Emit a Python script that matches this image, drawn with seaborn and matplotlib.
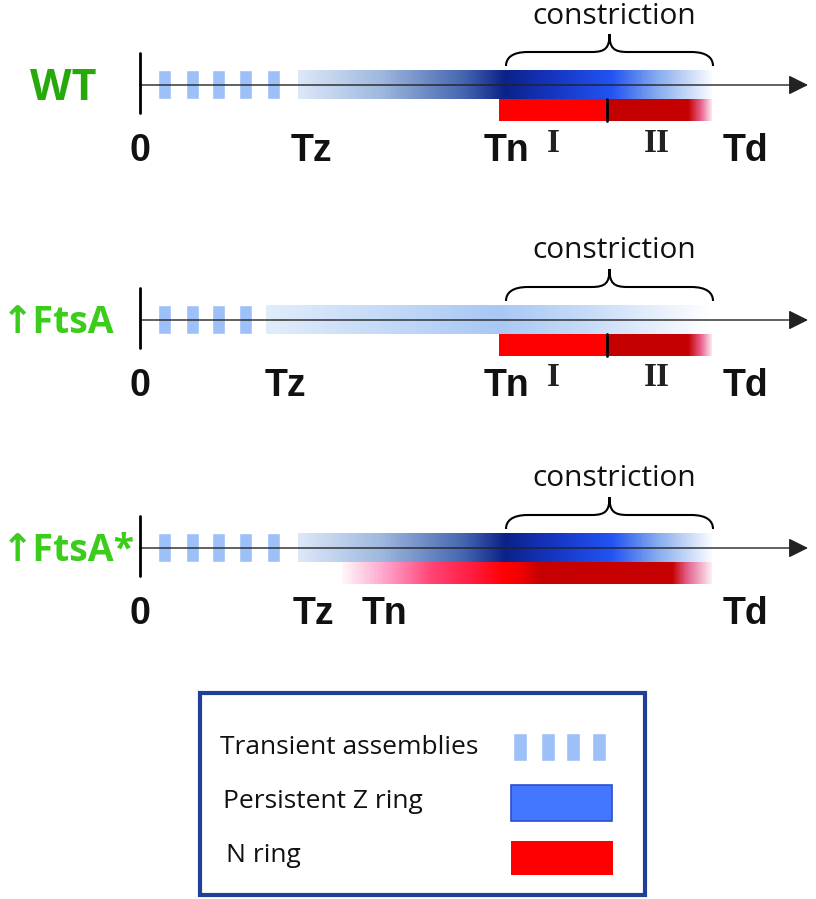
"""
Schematic timeline of Z ring / N ring assembly (WT, FtsA, FtsA*)
Run: python plot.py
"""

import numpy as np
import matplotlib.pyplot as plt
import seaborn as sns
from matplotlib.colors import LinearSegmentedColormap
from matplotlib.patches import Rectangle, PathPatch
from matplotlib.path import Path

sns.set_theme(style="white")
plt.rcParams["font.family"] = ["Open Sans", "DejaVu Sans"]

# ── Data (x / y in canvas units, 816 x 899) ─────────────────
strains = ["WT", "↑FtsA", "↑FtsA*"]
strain_colors = ["#27a90b", "#3ccc1c", "#3ccc1c"]
strain_x = [30, 2, 2]
strain_size = [31, 27, 27]
axis_y = [85, 320, 548]

t0 = 140
td = 712
tz = [298, 266, 298]
tn = [499, 499, 342]
phase_split = [607, 607, None]
transient_x = [[158, 186, 212, 239, 267],
               [158, 186, 212, 239],
               [158, 186, 212, 239, 267]]

tick_names = ["0", "Tz", "Tn", "Td"]
tick_x = {"0": [140, 140, 140],
          "Tz": [311, 285, 313],
          "Tn": [507, 507, 384],
          "Td": [745, 745, 745]}
phase_names = ["I", "II"]
phase_x = [553, 657]

brace_span = (506, 713)

# colour stops along each ring (fraction of bar length, colour)
z_stops = [
    [(0.0, "#dce8f8"), (0.2, "#9fb8de"), (0.4, "#4565b0"), (0.5, "#0b2288"),
     (0.62, "#1636c2"), (0.76, "#2353f2"), (0.87, "#86abee"), (1.0, "#f8fbff")],
    [(0.0, "#e1edfb"), (0.52, "#a9c8f5"), (0.72, "#c6dbf8"), (1.0, "#ffffff")],
    [(0.0, "#dce8f8"), (0.2, "#9fb8de"), (0.4, "#4565b0"), (0.5, "#0b2288"),
     (0.62, "#1636c2"), (0.76, "#2353f2"), (0.87, "#86abee"), (1.0, "#f8fbff")],
]
n_stops = [
    [(0.0, "#ff0000"), (0.505, "#ff0000"), (0.509, "#c40000"), (0.89, "#c40000"),
     (0.95, "#e8608a"), (1.0, "#fbe4ee")],
    [(0.0, "#ff0000"), (0.505, "#ff0000"), (0.509, "#c40000"), (0.89, "#c40000"),
     (0.95, "#e8608a"), (1.0, "#fbe4ee")],
    [(0.0, "#fff6fa"), (0.12, "#ff9fc9"), (0.24, "#ff4575"), (0.35, "#ff1c40"),
     (0.44, "#ff0000"), (0.48, "#f20000"), (0.535, "#c60000"), (0.895, "#c60000"),
     (0.935, "#e2608c"), (1.0, "#fdeaf2")],
]

legend_items = ["Transient assemblies", "Persistent Z ring", "N ring"]
legend_text_xy = [(220, 747), (223, 802), (226, 856)]
legend_transient_x = [513, 541, 566, 592]

transient_color = "#9ec0f8"
label_font = ["Liberation Sans", "DejaVu Sans"]
serif_font = ["Liberation Serif", "DejaVu Serif"]


def gradient_bar(ax, x0, x1, ytop, ybot, stops):
    cmap = LinearSegmentedColormap.from_list("g", stops)
    ax.imshow(np.linspace(0, 1, 600)[None, :], cmap=cmap, aspect="auto",
              extent=[x0, x1, ybot, ytop], interpolation="bilinear", zorder=2)


def brace(ax, x0, x1, y):
    xc = (x0 + x1) / 2
    yb, ya, yt = y - 19, y - 33, y - 51
    verts = [(x0, yb), (x0, ya + 6), (x0 + 6, ya), (x0 + 22, ya),
             (xc - 18, ya),
             (xc - 4, ya), (xc, ya - 4), (xc, yt),
             (xc, ya - 4), (xc + 4, ya), (xc + 18, ya),
             (x1 - 22, ya),
             (x1 - 6, ya), (x1, ya + 6), (x1, yb)]
    codes = [Path.MOVETO, Path.CURVE4, Path.CURVE4, Path.CURVE4,
             Path.LINETO,
             Path.CURVE4, Path.CURVE4, Path.CURVE4,
             Path.CURVE4, Path.CURVE4, Path.CURVE4,
             Path.LINETO,
             Path.CURVE4, Path.CURVE4, Path.CURVE4]
    ax.add_patch(PathPatch(Path(verts, codes), fill=False, lw=1.5,
                           edgecolor="black", zorder=3))


fig = plt.figure(figsize=(8.16, 8.99), dpi=100)
ax = fig.add_axes([0, 0, 1, 1])

for i, name in enumerate(strains):
    y = axis_y[i]

    # transient assemblies
    ax.bar(transient_x[i], 29, width=13, bottom=y - 15, align="edge",
           color=transient_color, zorder=2)

    # persistent Z ring and N ring
    gradient_bar(ax, tz[i], td, y - 15, y + 14, z_stops[i])
    gradient_bar(ax, tn[i], td, y + 14, y + 36, n_stops[i])
    if phase_split[i] is not None:
        ax.plot([phase_split[i]] * 2, [y + 14, y + 36], color="black",
                lw=2, zorder=3)

    # time axis
    ax.annotate("", xy=(808, y), xytext=(t0, y), zorder=4,
                arrowprops=dict(arrowstyle="-|>,head_length=0.6,head_width=0.3",
                                color="#222222", lw=1.0, mutation_scale=20,
                                shrinkA=0, shrinkB=0))
    ax.plot([t0, t0], [y - 32, y + 28], color="black", lw=2, zorder=4)

    # constriction brace
    brace(ax, brace_span[0], brace_span[1], y)
    ax.text(sum(brace_span) / 2 + 5, y - 69, "constriction", fontsize=21.5,
            ha="center", va="center", color="#111111")

    # strain label
    ax.text(strain_x[i], y + 3, name, fontsize=strain_size[i], fontweight="bold",
            color=strain_colors[i], ha="left", va="center",
            family=["Open Sans", "DejaVu Sans"])

    # time labels
    for t in tick_names:
        ax.text(tick_x[t][i], y + 66, t, fontsize=27, fontweight="bold",
                ha="center", va="center", color="#111111", family=label_font)
    if phase_split[i] is not None:
        for p, px in zip(phase_names, phase_x):
            ax.text(px, y + 58, p, fontsize=24, fontweight="bold",
                    ha="center", va="center", color="#222222", family=serif_font)

# ── Legend box ──────────────────────────────────────────────
ax.add_patch(Rectangle((200, 693), 445, 202, fill=False, edgecolor="#1f3f99",
                       lw=3, zorder=3))
ax.bar(legend_transient_x, 28, width=14, bottom=733, align="edge",
       color=transient_color, zorder=2)
ax.add_patch(Rectangle((511, 785), 101, 36, facecolor="#4477ff",
                       edgecolor="#2a4fd0", lw=1.2, zorder=2))
ax.add_patch(Rectangle((511, 841), 102, 34, facecolor="#ff0000",
                       edgecolor="none", zorder=2))
for label, (lx, ly) in zip(legend_items, legend_text_xy):
    ax.text(lx, ly, label, fontsize=19, ha="left", va="center", color="#111111")

ax.set_xlim(0, 816)
ax.set_ylim(899, 0)
ax.axis("off")

plt.savefig("out.png", dpi=100)
